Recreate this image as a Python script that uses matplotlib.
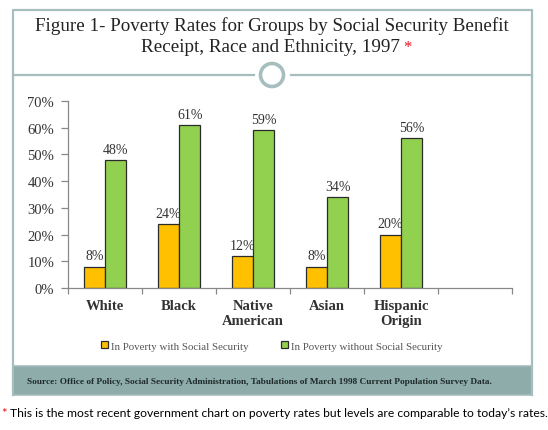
import matplotlib
matplotlib.use("Agg")
import matplotlib.pyplot as plt
from matplotlib.patches import Rectangle, Circle
from matplotlib.lines import Line2D
import numpy as np

# ---- data ----
categories = ["White", "Black", "Native\nAmerican", "Asian", "Hispanic\nOrigin"]
with_ss = [8, 24, 12, 8, 20]
without_ss = [48, 61, 59, 34, 56]
y_ticks = [0, 10, 20, 30, 40, 50, 60, 70]
y_labels = ["0%", "10%", "20%", "30%", "40%", "50%", "60%", "70%"]
series_names = ["In Poverty with Social Security", "In Poverty without Social Security"]
title_line1 = "Figure 1- Poverty Rates for Groups by Social Security Benefit"
title_line2 = "Receipt, Race and Ethnicity, 1997"
source_text = "Source: Office of Policy, Social Security Administration, Tabulations of March 1998 Current Population Survey Data."
footnote = "This is the most recent government chart on poverty rates but levels are comparable to today\u2019s rates."

W, H = 548, 431
SERIF = "Liberation Serif"
ORANGE = "#FFC000"
GREEN = "#92D050"
FRAME = "#a6bebd"
BAND = "#8eacaa"
TXT = "#333333"

fig = plt.figure(figsize=(W / 100, H / 100), dpi=100)
fig.patch.set_facecolor("white")

# overlay for decorations (pixel coordinates)
ov = fig.add_axes([0, 0, 1, 1], zorder=0)
ov.set_xlim(0, W)
ov.set_ylim(H, 0)
ov.axis("off")

L, R, T, B = 12.5, 532, 10.5, 396
ov.add_line(Line2D([L, L, R, R], [B, T, T, B], color=FRAME, lw=1.6))
ov.add_patch(Rectangle((L, 367), R - L, B - 367, facecolor=BAND, edgecolor=FRAME, lw=1.2))
ov.add_line(Line2D([L, 254], [76, 76], color=FRAME, lw=1.6))
ov.add_line(Line2D([291, R], [76, 76], color=FRAME, lw=1.6))
ov.add_patch(Circle((272, 76), 11.5, facecolor="white", edgecolor=FRAME, lw=2.6))

ov.text(272, 26, title_line1, ha="center", va="center", fontsize=13.7,
        family=SERIF, color="#222222")
t2 = ov.text(270, 48, title_line2, ha="center", va="center", fontsize=13.7,
             family=SERIF, color="#222222")
ov.annotate("*", xy=(1, 0.5), xycoords=t2, xytext=(3, 0), textcoords="offset points",
            ha="left", va="center", fontsize=12, color="#e8101e", family=SERIF)

ov.text(27, 382, source_text, ha="left", va="center", fontsize=6.7,
        family=SERIF, fontweight="bold", color="#1f2a2a")

ov.text(1, 414, "*", ha="left", va="center", fontsize=9.5, color="#e8101e", family="Lato")
ov.text(10, 414, footnote, ha="left", va="center", fontsize=8.75, color="black", family="Lato")

# ---- main chart ----
ax = fig.add_axes([68 / W, (H - 289) / H, (512 - 68) / W, (289 - 102) / H], zorder=1)
ax.patch.set_alpha(0)
x = np.arange(len(categories))
w = 0.29
b1 = ax.bar(x - w / 2, with_ss, w, color=ORANGE, edgecolor="#2b2b2b", lw=0.9, label=series_names[0])
b2 = ax.bar(x + w / 2, without_ss, w, color=GREEN, edgecolor="#2b2b2b", lw=0.9, label=series_names[1])

for bars, vals in ((b1, with_ss), (b2, without_ss)):
    for r, v in zip(bars, vals):
        ax.annotate(f"{v}%", xy=(r.get_x() + r.get_width() / 2, v), xytext=(0, 3),
                    textcoords="offset points", ha="center", va="bottom",
                    fontsize=10, family=SERIF, color=TXT)

ax.set_xlim(-0.5, 5.5)
ax.set_ylim(0, 70)
ax.set_yticks(y_ticks)
ax.set_yticklabels(y_labels, family=SERIF, fontsize=10.5, color=TXT)
ax.set_xticks(x)
ax.set_xticklabels(categories, family=SERIF, fontsize=10.5, fontweight="bold",
                   color=TXT, linespacing=1.15)
ax.set_xticks(np.arange(-0.5, 6.0, 1.0), minor=True)
ax.tick_params(axis="x", which="major", length=0, pad=8)
ax.tick_params(axis="x", which="minor", length=4, color="#888888", width=0.9, direction="out")
ax.tick_params(axis="y", length=5, color="#888888", width=0.9, pad=5)
for s in ("top", "right"):
    ax.spines[s].set_visible(False)
for s in ("left", "bottom"):
    ax.spines[s].set_color("#888888")
    ax.spines[s].set_linewidth(0.9)

leg = fig.legend(handles=[b1, b2], labels=series_names, loc="center",
                 bbox_to_anchor=(272 / W, 1 - 347 / H), ncol=2, frameon=False,
                 prop={"family": SERIF, "size": 7.8}, handlelength=0.6, handleheight=0.6,
                 handletextpad=0.3, columnspacing=3.0, labelcolor="#555555")

fig.savefig("out.png", dpi=100, facecolor="white")
